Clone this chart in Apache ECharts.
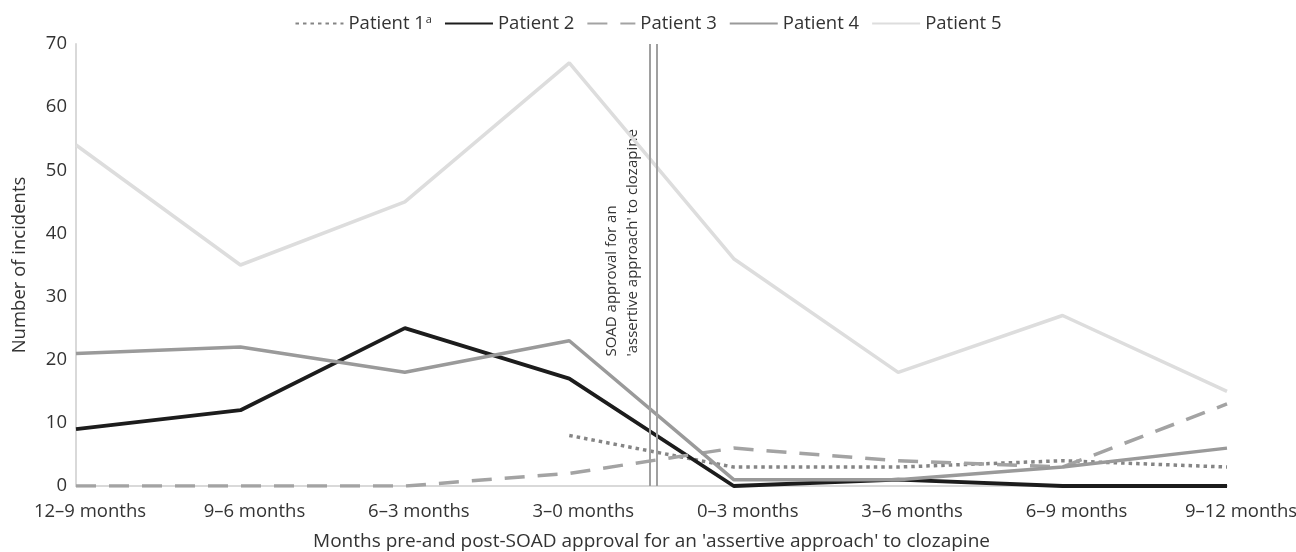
<!DOCTYPE html>
<html>
<head>
<meta charset="utf-8">
<script src="https://cdn.jsdelivr.net/npm/echarts@6/dist/echarts.min.js"></script>
<style>
html,body{margin:0;padding:0;background:#fff;}
#chart{width:1296px;height:552px;}
</style>
</head>
<body>
<div id="chart"></div>
<script>
const categories = ['12–9 months','9–6 months','6–3 months','3–0 months','0–3 months','3–6 months','6–9 months','9–12 months'];
const patient1 = [null, null, null, 8, 3, 3, 4, 3];
const patient2 = [9, 12, 25, 17, 0, 1, 0, 0];
const patient3 = [0, 0, 0, 2, 6, 4, 3, 13];
const patient4 = [21, 22, 18, 23, 1, 1, 3, 6];
const patient5 = [54, 35, 45, 67, 36, 18, 27, 15];
const seriesNames = ['Patient 1', 'Patient 2', 'Patient 3', 'Patient 4', 'Patient 5'];
const approvalPosition = 3.509; // between "3–0 months" and "0–3 months"
const yMin = 0, yMax = 70, yStep = 10;
const xAxisTitle = "Months pre-and post-SOAD approval for an 'assertive approach' to clozapine";
const yAxisTitle = 'Number of incidents';
const annotationText = "SOAD approval for an\n'assertive approach' to clozapine";

const FONT = '"Open Sans", sans-serif';
const TXT = '#333333';

const chart = echarts.init(document.getElementById('chart'), null, {renderer: 'canvas'});

function lineSeries(name, data, color, width, type) {
  return {
    name: name,
    type: 'line',
    data: data,
    symbol: 'none',
    showSymbol: false,
    connectNulls: false,
    lineStyle: {color: color, width: width, type: type, cap: 'butt'},
    itemStyle: {color: color},
    emphasis: {disabled: true},
    animation: false
  };
}

const option = {
  animation: false,
  textStyle: {fontFamily: FONT},
  grid: {left: 76, right: 69, top: 44, bottom: 66, containLabel: false, outerBoundsMode: 'none'},
  legend: {
    top: 9,
    left: 'center',
    itemWidth: 48,
    itemHeight: 14,
    itemGap: 12,
    itemStyle: {color: 'transparent', borderWidth: 0, opacity: 0},
    textStyle: {
      fontFamily: FONT, fontSize: 18.5, color: TXT,
      rich: {sup: {fontFamily: FONT, fontSize: 11, color: TXT, verticalAlign: 'top', padding: [0, 0, 8, 1]}}
    },
    formatter: function (name) { return name === 'Patient 1' ? 'Patient 1{sup|a}' : name; },
    data: seriesNames
  },
  xAxis: [{
    type: 'category',
    data: categories,
    boundaryGap: false,
    axisLine: {show: true, lineStyle: {color: '#d9d9d9', width: 2}},
    axisTick: {show: false},
    splitLine: {show: false},
    axisLabel: {fontFamily: FONT, fontSize: 18.5, color: TXT, margin: 16, padding: [0, 0, 0, 28], interval: 0},
    name: xAxisTitle,
    nameLocation: 'middle',
    nameGap: 46,
    nameTextStyle: {fontFamily: FONT, fontSize: 19, color: TXT}
  }, {
    type: 'value',
    min: 0,
    max: categories.length - 1,
    show: false
  }],
  yAxis: {
    type: 'value',
    min: yMin,
    max: yMax,
    interval: yStep,
    axisLine: {show: true, lineStyle: {color: '#d9d9d9', width: 2}},
    axisTick: {show: false},
    splitLine: {show: false},
    axisLabel: {fontFamily: FONT, fontSize: 18.5, color: TXT, margin: 9},
    name: yAxisTitle,
    nameLocation: 'middle',
    nameGap: 47,
    nameTextStyle: {fontFamily: FONT, fontSize: 18.5, color: TXT}
  },
  series: [
    {
      name: 'approval',
      type: 'line',
      xAxisIndex: 1,
      yAxisIndex: 0,
      data: [],
      silent: true,
      markLine: {
        silent: true,
        symbol: 'none',
        label: {show: false},
        lineStyle: {color: '#a0a0a0', width: 2, type: 'solid'},
        data: [{xAxis: approvalPosition - 0.018}, {xAxis: approvalPosition + 0.018}],
        animation: false
      }
    },
    lineSeries('Patient 1', patient1, '#858585', 3.5, [3.5, 4]),
    lineSeries('Patient 2', patient2, '#1c1c1c', 3.8, 'solid'),
    lineSeries('Patient 3', patient3, '#a3a3a3', 3.5, [20, 13]),
    lineSeries('Patient 4', patient4, '#9a9a9a', 3.5, 'solid'),
    lineSeries('Patient 5', patient5, '#dddddd', 3.5, 'solid')
  ]
};

chart.setOption(option);

const px = chart.convertToPixel({xAxisIndex: 1, yAxisIndex: 0}, [approvalPosition, 20.5]);
chart.setOption({
  graphic: [{
    type: 'text',
    x: px[0] - 10,
    y: px[1],
    rotation: Math.PI / 2,
    silent: true,
    style: {
      text: annotationText,
      fontFamily: FONT,
      fontSize: 15,
      lineHeight: 21,
      fill: TXT,
      align: 'left',
      verticalAlign: 'bottom'
    }
  }]
});
</script>
</body>
</html>
